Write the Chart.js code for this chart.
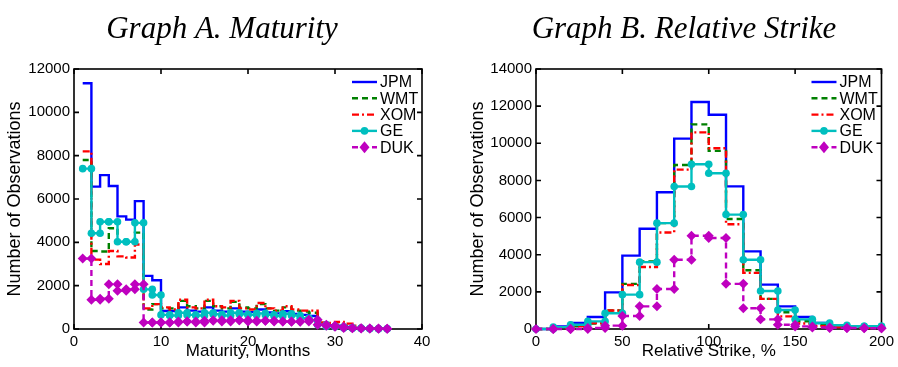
<!DOCTYPE html>
<html>
<head>
<meta charset="utf-8">
<script src="https://cdn.jsdelivr.net/npm/chart.js@4.4.1/dist/chart.umd.min.js"></script>
<style>
  html, body { margin: 0; padding: 0; background: #fff; }
  #wrap { position: relative; width: 898px; height: 367px; }
  canvas { position: absolute; top: 0; }
  #maturity { left: 0; }
  #strike { left: 449px; }
</style>
</head>
<body>
<div id="wrap">
  <canvas id="maturity" width="449" height="367"></canvas>
  <canvas id="strike" width="449" height="367"></canvas>
</div>
<script>
const tickers = ["JPM", "WMT", "XOM", "GE", "DUK"];

// Graph A: number of observations by maturity (months)
const months = [1, 2, 3, 4, 5, 6, 7, 8, 9, 10, 11, 12, 13, 14, 15, 16, 17, 18,
    19, 20, 21, 22, 23, 24, 25, 26, 27, 28, 29, 30, 31, 32, 33, 34, 35, 36];
const maturityJPM = [11340, 6570, 7100, 6600, 5200, 5050, 5900, 2450, 2250, 830, 830, 1000,
    850, 800, 1000, 850, 800, 950, 800, 780, 900, 760, 720, 820, 700, 650, 600,
    200, 180, 150, 100, 50, 30, 20, 10, 10];
const maturityWMT = [7800, 3600, 3580, 4650, 4000, 4000, 4450, 900, 1150, 950, 950, 1300,
    1050, 950, 1300, 1050, 950, 1250, 1000, 950, 1150, 950, 850, 1000, 850, 800, 750,
    250, 220, 200, 150, 80, 40, 20, 10, 10];
const maturityXOM = [8200, 3200, 3000, 3600, 3350, 3300, 3900, 950, 1150, 1000, 900, 1350,
    1000, 950, 1350, 1050, 1000, 1300, 950, 900, 1200, 950, 850, 1050, 900, 850, 850,
    300, 280, 320, 250, 150, 80, 40, 20, 10];
const maturityGE = [7400, 4420, 4950, 4950, 4030, 4030, 4900, 1830, 1570, 650, 620, 750,
    650, 620, 750, 680, 620, 750, 680, 650, 720, 650, 600, 700, 620, 500, 400,
    200, 120, 100, 50, 40, 20, 10, 10, 10];
const maturityDUK = [3250, 1350, 1400, 2060, 1770, 1830, 2060, 300, 300, 300, 300, 350,
    350, 300, 380, 400, 350, 400, 400, 350, 380, 380, 350, 350, 330, 350, 430,
    200, 150, 100, 50, 30, 20, 20, 10, 10];

// Graph B: number of observations by relative strike (%)
const strikes = [0, 10, 20, 30, 40, 50, 60, 70, 80, 90, 100, 110, 120, 130, 140, 150,
    160, 170, 180, 190, 200];
const strikeJPM = [0, 140, 320, 650, 1970, 3950, 5400, 7360, 10250, 12220, 11540, 7680,
    4180, 2390, 1220, 650, 320, 200, 150, 100, 100];
const strikeWMT = [0, 50, 150, 300, 1000, 2430, 3640, 5700, 8830, 11020, 9590, 5920,
    3160, 1620, 900, 420, 200, 120, 100, 80, 80];
const strikeXOM = [0, 50, 150, 320, 1000, 2370, 3340, 5200, 8580, 10590, 9730, 5640,
    3020, 1620, 680, 300, 150, 100, 80, 60, 60];
const strikeGE = [0, 100, 230, 410, 850, 1850, 3600, 5700, 7670, 8870, 8390, 6160,
    3730, 2050, 1020, 520, 320, 200, 150, 150, 150];
const strikeDUK = [0, 0, 0, 50, 180, 700, 1220, 2150, 3730, 5020, 4900, 2430,
    1120, 520, 230, 140, 80, 60, 50, 40, 40];

const maturityTicks = [0, 2000, 4000, 6000, 8000, 10000, 12000];
const strikeTicks = [0, 2000, 4000, 6000, 8000, 10000, 12000, 14000];

const SANS = "'Liberation Sans', Arial, Helvetica, sans-serif";
Chart.defaults.color = "#000";
Chart.defaults.font.family = SANS;

// matlab style stairs: every corner is a vertex (and gets a marker)
function stairs(xs, ys) {
    const pts = [];
    for (let i = 0; i < xs.length; i++) {
        pts.push({x: xs[i], y: ys[i]});
        if (i < xs.length - 1) pts.push({x: xs[i + 1], y: ys[i]});
    }
    return pts;
}

const styles = {
    JPM: {borderColor: "#0000ff", borderDash: [], pointStyle: false, pointRadius: 0},
    WMT: {borderColor: "#008000", borderDash: [6, 4], pointStyle: false, pointRadius: 0},
    XOM: {borderColor: "#ff0000", borderDash: [7, 3, 2, 3], pointStyle: false, pointRadius: 0},
    GE: {borderColor: "#00bfbf", borderDash: [], pointStyle: "circle", pointRadius: 3.8},
    DUK: {borderColor: "#bf00bf", borderDash: [6, 4], pointStyle: "rectRot", pointRadius: 5},
};

function drawMarker(ctx, style, r, x, y, color) {
    ctx.fillStyle = color;
    ctx.beginPath();
    if (style === "circle") {
        ctx.arc(x, y, r, 0, Math.PI * 2);
    } else {
        ctx.moveTo(x, y - r * 1.2);
        ctx.lineTo(x + r, y);
        ctx.lineTo(x, y + r * 1.2);
        ctx.lineTo(x - r, y);
        ctx.closePath();
    }
    ctx.fill();
}

// axes box with inward ticks on all four sides
const matlabFrame = {
    id: "matlabFrame",
    beforeDatasetsDraw(chart) {
        const {ctx, chartArea: a, scales: {x, y}} = chart;
        const len = 5;
        ctx.save();
        ctx.strokeStyle = "#000";
        ctx.lineWidth = 1.6;
        ctx.strokeRect(a.left, a.top, a.right - a.left, a.bottom - a.top);
        ctx.beginPath();
        x.ticks.forEach(t => {
            const px = x.getPixelForValue(t.value);
            ctx.moveTo(px, a.bottom); ctx.lineTo(px, a.bottom - len);
            ctx.moveTo(px, a.top); ctx.lineTo(px, a.top + len);
        });
        y.ticks.forEach(t => {
            const py = y.getPixelForValue(t.value);
            ctx.moveTo(a.left, py); ctx.lineTo(a.left + len, py);
            ctx.moveTo(a.right, py); ctx.lineTo(a.right - len, py);
        });
        ctx.stroke();
        ctx.restore();
    }
};

const insideLegend = {
    id: "insideLegend",
    afterDraw(chart) {
        const {ctx, chartArea: a} = chart;
        ctx.save();
        ctx.font = "16px " + SANS;
        ctx.textBaseline = "middle";
        chart.data.datasets.forEach((ds, i) => {
            const yy = a.top + 13 + i * 16.3;
            const x0 = a.right - 70, x1 = a.right - 45;
            ctx.strokeStyle = ds.borderColor;
            ctx.lineWidth = ds.borderWidth;
            ctx.setLineDash(ds.borderDash);
            ctx.beginPath();
            ctx.moveTo(x0, yy);
            ctx.lineTo(x1, yy);
            ctx.stroke();
            ctx.setLineDash([]);
            if (ds.pointRadius > 0) {
                drawMarker(ctx, ds.pointStyle, ds.pointRadius, (x0 + x1) / 2, yy, ds.borderColor);
            }
            ctx.fillStyle = "#000";
            ctx.fillText(ds.label, a.right - 42, yy + 1);
        });
        ctx.restore();
    }
};

const panelTitle = {
    id: "panelTitle",
    afterDraw(chart, args, opts) {
        const ctx = chart.ctx;
        ctx.save();
        ctx.font = "italic 31px 'Liberation Serif', 'Times New Roman', serif";
        ctx.textAlign = "center";
        ctx.fillStyle = "#000";
        ctx.fillText(opts.text, opts.x, 38);
        ctx.restore();
    }
};

function makeChart(id, xs, series, opts) {
    const datasets = tickers.map((t, i) => ({
        label: t,
        data: stairs(xs, series[i]),
        borderColor: styles[t].borderColor,
        backgroundColor: styles[t].borderColor,
        borderDash: styles[t].borderDash,
        borderWidth: 2.4,
        pointStyle: styles[t].pointStyle || "circle",
        pointRadius: styles[t].pointRadius,
        pointBorderWidth: 0,
        pointBackgroundColor: styles[t].borderColor,
        fill: false,
        clip: false,
        order: tickers.length - i,
    }));
    return new Chart(document.getElementById(id), {
        type: "line",
        data: {datasets},
        options: {
            responsive: false,
            animation: false,
            events: [],
            layout: {padding: {top: 69, left: opts.padLeft, right: opts.padRight, bottom: 0}},
            plugins: {
                legend: {display: false},
                tooltip: {enabled: false},
                panelTitle: {text: opts.title, x: opts.titleX},
            },
            scales: {
                x: {
                    type: "linear",
                    min: opts.xMin, max: opts.xMax,
                    afterFit: s => { s.height = 38; },
                    grid: {display: false, drawTicks: false},
                    border: {display: false},
                    ticks: {stepSize: opts.xStep, padding: 4, font: {size: 15}},
                    title: {display: true, text: opts.xTitle, font: {size: 17}, padding: {top: 0, bottom: 5}},
                },
                y: {
                    type: "linear",
                    min: 0, max: opts.yTicks[opts.yTicks.length - 1],
                    afterFit: s => { s.width = opts.yWidth; },
                    afterBuildTicks: s => { s.ticks = opts.yTicks.map(v => ({value: v})); },
                    grid: {display: false, drawTicks: false},
                    border: {display: false},
                    ticks: {padding: 4, font: {size: 15}, callback: v => String(v)},
                    title: {display: true, text: "Number of Observations", font: {size: 18}, padding: {top: 4, bottom: 0}},
                },
            },
        },
        plugins: [matlabFrame, insideLegend, panelTitle],
    });
}

makeChart("maturity", months,
    [maturityJPM, maturityWMT, maturityXOM, maturityGE, maturityDUK], {
        title: "Graph A. Maturity", titleX: 222,
        xTitle: "Maturity, Months", xMin: 0, xMax: 40, xStep: 10,
        yTicks: maturityTicks, padLeft: 0, padRight: 27, yWidth: 74,
    });

makeChart("strike", strikes,
    [strikeJPM, strikeWMT, strikeXOM, strikeGE, strikeDUK], {
        title: "Graph B. Relative Strike", titleX: 235,
        xTitle: "Relative Strike, %", xMin: 0, xMax: 200, xStep: 50,
        yTicks: strikeTicks, padLeft: 14, padRight: 15, yWidth: 73,
    });
</script>
</body>
</html>
